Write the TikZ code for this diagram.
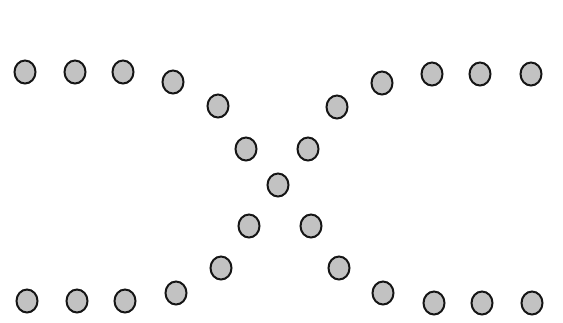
\documentclass[tikz,border=0pt]{standalone}
\usetikzlibrary{shapes.geometric}
\definecolor{dotfill}{HTML}{C2C2C2}
\definecolor{dotline}{HTML}{151515}
\begin{document}
\begin{tikzpicture}[x=1pt,y=-1pt,
  dot/.style={ellipse,draw=dotline,fill=dotfill,line width=2pt,inner sep=0pt,minimum width=21pt,minimum height=23pt}]
\useasboundingbox (0,0) rectangle (563,322);
% top-left arm
\node[dot] (a1) at (25,72) {};
\node[dot] (a2) at (75,72) {};
\node[dot] (a3) at (123,72) {};
\node[dot] (a4) at (173,82) {};
\node[dot] (a5) at (218,106) {};
\node[dot] (a6) at (246,149) {};
% centre
\node[dot] (c) at (278,185) {};
% top-right arm
\node[dot] (b6) at (308,149) {};
\node[dot] (b5) at (337,107) {};
\node[dot] (b4) at (382,83) {};
\node[dot] (b3) at (432,74) {};
\node[dot] (b2) at (480,74) {};
\node[dot] (b1) at (531,74) {};
% bottom-left arm
\node[dot] (d6) at (249,226) {};
\node[dot] (d5) at (221,268) {};
\node[dot] (d4) at (176,293) {};
\node[dot] (d3) at (125,301) {};
\node[dot] (d2) at (77,301) {};
\node[dot] (d1) at (27,301) {};
% bottom-right arm
\node[dot] (e6) at (311,226) {};
\node[dot] (e5) at (339,268) {};
\node[dot] (e4) at (383,293) {};
\node[dot] (e3) at (434,303) {};
\node[dot] (e2) at (482,303) {};
\node[dot] (e1) at (532,303) {};
\end{tikzpicture}
\end{document}
